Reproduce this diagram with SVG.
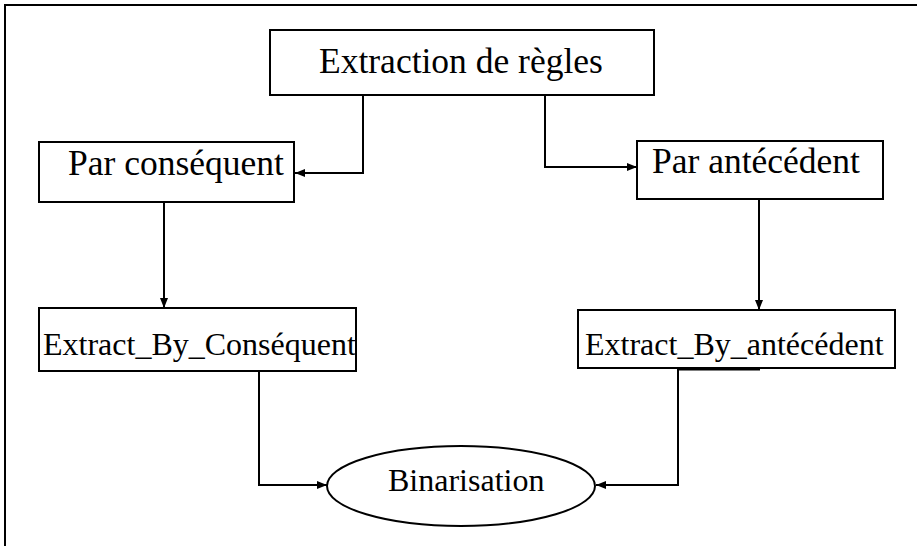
<svg xmlns="http://www.w3.org/2000/svg" width="917" height="546" viewBox="0 0 917 546">
  <style>
    .box { fill: #fff; stroke: #000; stroke-width: 2; }
    .lbl { font-family: "Liberation Serif", "Times New Roman", serif; fill: #000; }
    .big { font-size: 35.5px; }
    .small { font-size: 32px; }
    .wire { fill: none; stroke: #000; stroke-width: 2; }
  </style>
  <defs>
    <marker id="arrow" viewBox="0 0 10 8" refX="10" refY="4" markerWidth="10" markerHeight="8" markerUnits="userSpaceOnUse" orient="auto">
      <path d="M0,0 L10,4 L0,8 Z" fill="#000"/>
    </marker>
  </defs>
  <rect width="917" height="546" fill="#fff"/>
  <!-- page frame -->
  <path d="M5,546 V5 H917" fill="none" stroke="#000" stroke-width="2"/>

  <g id="connectors">
    <path class="wire" d="M363,95 V173 H295" marker-end="url(#arrow)"/>
    <path class="wire" d="M545,95 V167 H637" marker-end="url(#arrow)"/>
    <path class="wire" d="M164,202 V308" marker-end="url(#arrow)"/>
    <path class="wire" d="M759,199 V310" marker-end="url(#arrow)"/>
    <path class="wire" d="M259,371 V485 H327" marker-end="url(#arrow)"/>
    <path class="wire" d="M678,369 V485 H596" marker-end="url(#arrow)"/>
    <path d="M677,369 H760" stroke="#000" stroke-width="3"/>
  </g>

  <g id="extraction">
    <rect class="box" x="270" y="30" width="384" height="65"/>
    <text class="lbl big" x="319" y="73">Extraction de règles</text>
  </g>
  <g id="par-consequent">
    <rect class="box" x="39" y="142" width="255" height="60"/>
    <text class="lbl big" x="68" y="175">Par conséquent</text>
  </g>
  <g id="par-antecedent">
    <rect class="box" x="637" y="141" width="246" height="58"/>
    <text class="lbl big" x="652" y="173">Par antécédent</text>
  </g>
  <g id="extract-consequent">
    <rect class="box" x="39" y="308" width="317" height="63"/>
    <text class="lbl small" x="43" y="355">Extract_By_Conséquent</text>
  </g>
  <g id="extract-antecedent">
    <rect class="box" x="578" y="310" width="317" height="58"/>
    <text class="lbl small" x="585" y="355">Extract_By_antécédent</text>
  </g>
  <g id="binarisation">
    <ellipse class="box" cx="461" cy="486" rx="134" ry="40"/>
    <text class="lbl small" x="388" y="491">Binarisation</text>
  </g>
</svg>
